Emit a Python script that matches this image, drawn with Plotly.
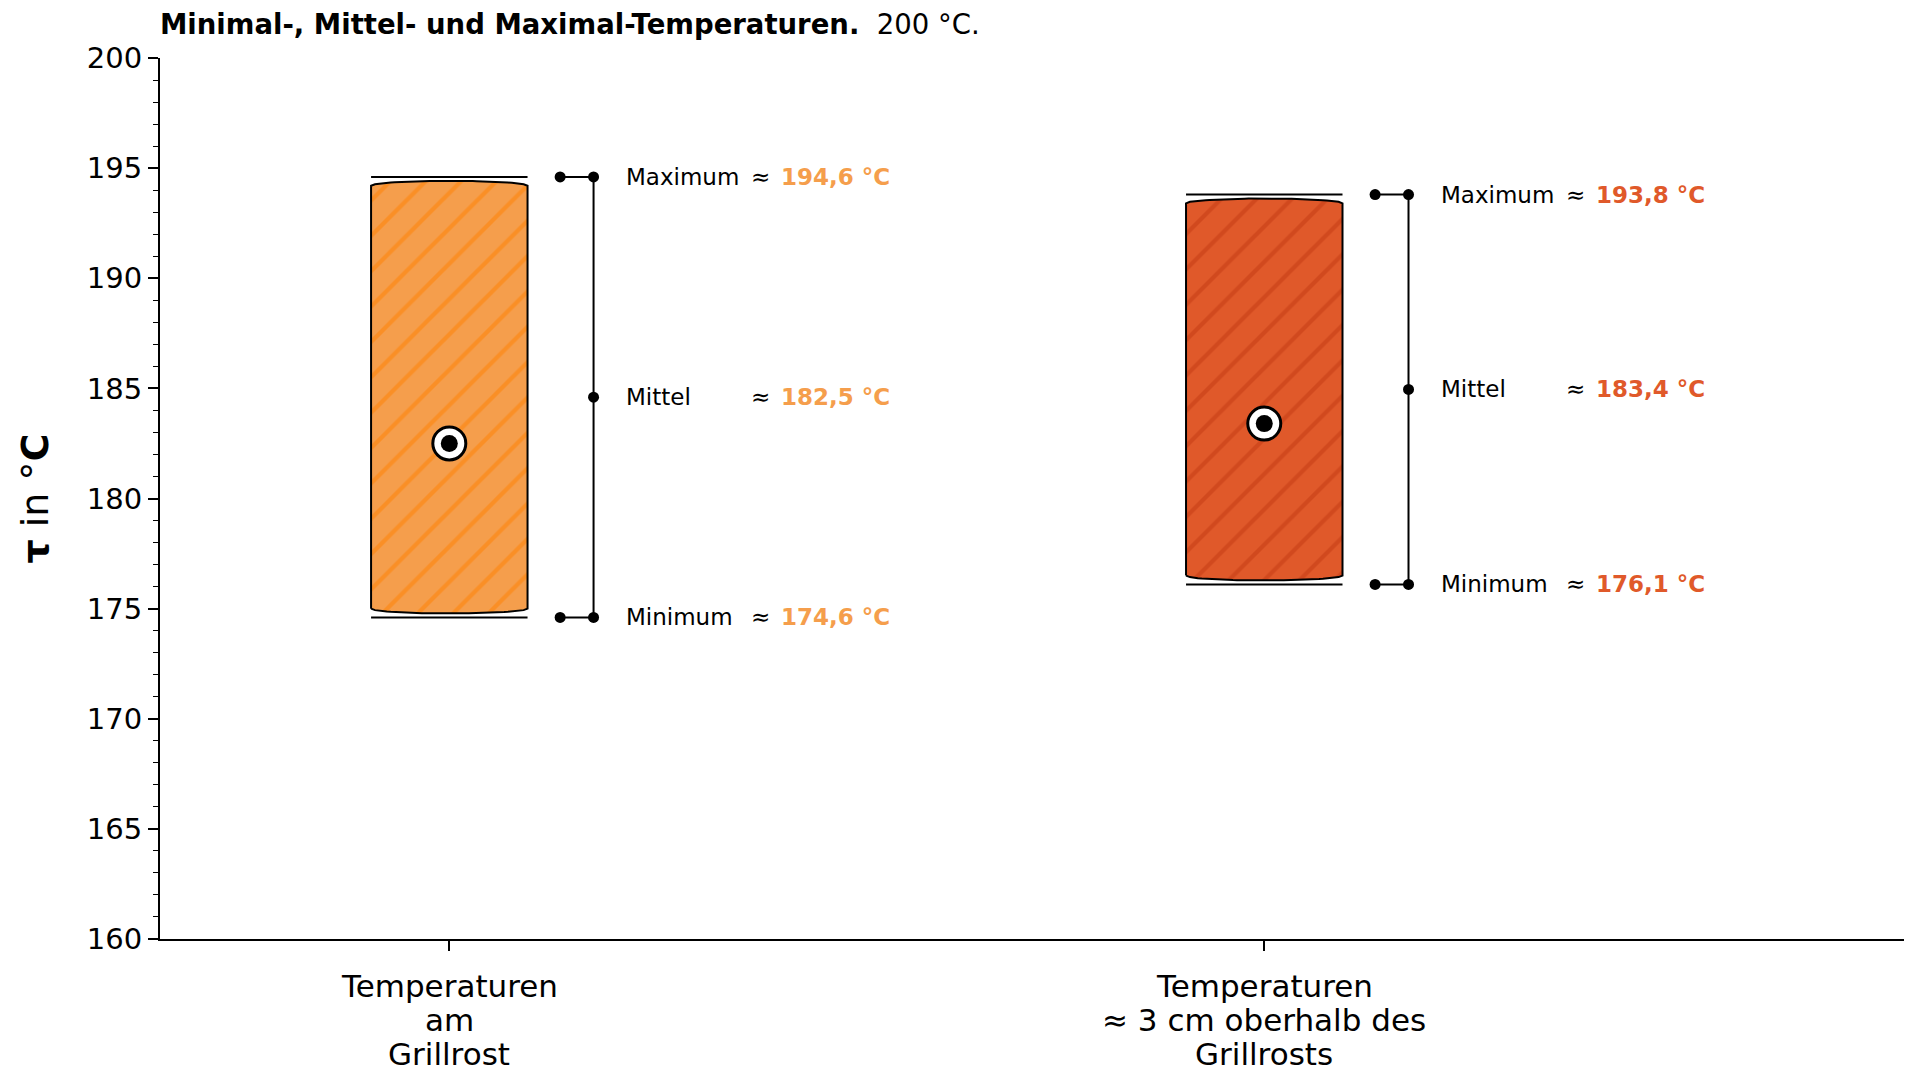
import numpy as np
import plotly.graph_objects as go

# ---------------- data ----------------
categories = ["Temperaturen<br>am<br>Grillrost",
              "Temperaturen<br>≈ 3 cm oberhalb des<br>Grillrosts"]
t_min = [174.6, 176.1]
t_mean = [182.5, 183.4]
t_max = [194.6, 193.8]
value_labels_min = ["174,6 °C", "176,1 °C"]
value_labels_mean = ["182,5 °C", "183,4 °C"]
value_labels_max = ["194,6 °C", "193,8 °C"]
row_names = ["Maximum", "Mittel", "Minimum"]
y_ticks = [160, 165, 170, 175, 180, 185, 190, 195, 200]

# ---------------- style ----------------
fill_colors = ["#F59E4C", "#E0592A"]
hatch_colors = ["#FF8000", "#C23A12"]
text_colors = ["#F59E4C", "#E0592A"]
FONT = "DejaVu Sans"
half_w = 0.096
cap_corner = 0.40
cap_depth = 0.22
br_left = 0.136
br_x = 0.177
lab_x = 0.214
approx_x = 0.368
val_x = 0.404
xlabel_shifts = [-46.7, -81.0, -115.3]

fig = go.Figure()

for i, cat in enumerate(categories):
    xc = i
    lo, hi = t_min[i], t_max[i]
    u = np.linspace(-1, 1, 41)
    arc = np.sqrt(1 - u ** 2)
    # cylinder outline
    xs = ([xc - half_w] + list(xc + half_w * u) + [xc + half_w] + list(xc - half_w * u))
    ys = ([lo + cap_corner] + list(hi - cap_corner + cap_depth * arc) +
          [hi - cap_corner] + list(lo + cap_corner - cap_depth * arc))
    xs.append(xs[0]); ys.append(ys[0])
    fig.add_trace(go.Scatter(
        x=xs, y=ys, mode="lines", fill="toself",
        fillcolor=fill_colors[i],
        fillpattern=dict(shape="/", bgcolor=fill_colors[i], fgcolor=hatch_colors[i],
                         size=25, solidity=0.17),
        line=dict(color="black", width=2), hoverinfo="skip", showlegend=False))
    # max/min lines
    for yv in (lo, hi):
        fig.add_trace(go.Scatter(x=[xc - half_w, xc + half_w], y=[yv, yv], mode="lines",
                                 line=dict(color="black", width=2),
                                 hoverinfo="skip", showlegend=False))
    # mean marker
    fig.add_trace(go.Scatter(x=[xc], y=[t_mean[i]], mode="markers",
                             marker=dict(size=33, color="white",
                                         line=dict(color="black", width=3)),
                             hoverinfo="skip", showlegend=False))
    fig.add_trace(go.Scatter(x=[xc], y=[t_mean[i]], mode="markers",
                             marker=dict(size=17, color="black"),
                             hoverinfo="skip", showlegend=False))
    # bracket
    mid = (lo + hi) / 2
    fig.add_trace(go.Scatter(x=[xc + br_x, xc + br_x], y=[lo, hi], mode="lines",
                             line=dict(color="black", width=2),
                             hoverinfo="skip", showlegend=False))
    for yv in (lo, hi):
        fig.add_trace(go.Scatter(x=[xc + br_left, xc + br_x], y=[yv, yv], mode="lines+markers",
                                 line=dict(color="black", width=2),
                                 marker=dict(size=11, color="black"),
                                 hoverinfo="skip", showlegend=False))
    fig.add_trace(go.Scatter(x=[xc + br_x], y=[mid], mode="markers",
                             marker=dict(size=11, color="black"),
                             hoverinfo="skip", showlegend=False))
    # labels
    rows = [(hi, row_names[0], value_labels_max[i]),
            (mid, row_names[1], value_labels_mean[i]),
            (lo, row_names[2], value_labels_min[i])]
    for yv, name, val in rows:
        fig.add_annotation(x=xc + lab_x, y=yv, text=name, showarrow=False,
                           xanchor="left", yanchor="middle",
                           font=dict(family=FONT, size=23, color="black"))
        fig.add_annotation(x=xc + approx_x, y=yv, text="≈", showarrow=False,
                           xanchor="left", yanchor="middle",
                           font=dict(family=FONT, size=23, color="black"))
        fig.add_annotation(x=xc + val_x, y=yv, text="<b>" + val + "</b>", showarrow=False,
                           xanchor="left", yanchor="middle",
                           font=dict(family=FONT, size=23, color=text_colors[i]))
    # category tick label lines
    for k, line_txt in enumerate(cat.split("<br>")):
        fig.add_annotation(x=xc, xref="x", y=0, yref="paper", text=line_txt,
                           showarrow=False, xanchor="center", yanchor="middle",
                           yshift=xlabel_shifts[k],
                           font=dict(family=FONT, size=31, color="black"))

# y-axis title as rotated annotation
fig.add_annotation(xref="paper", yref="paper", x=-0.0722, y=0.5,
                   text="<b>τ</b> in °<b>C</b>", textangle=-90, showarrow=False,
                   xanchor="center", yanchor="middle",
                   font=dict(family=FONT, size=38, color="black"))

fig.update_layout(
    width=1920, height=1080,
    margin=dict(l=152, r=24, t=49.5, b=149),
    paper_bgcolor="white", plot_bgcolor="white",
    font=dict(family=FONT, color="black"),
    title=dict(text="<b>Minimal-, Mittel- und Maximal-Temperaturen.</b>\u00a0\u00a0200 °C.",
               x=152 / 1920, xanchor="left", xref="container",
               y=1 - 16 / 1080, yanchor="middle", yref="container",
               font=dict(family=FONT, size=27.5, color="black")),
    xaxis=dict(range=[-0.355, 1.785], tickvals=[0, 1], ticktext=["", ""],
               showgrid=False, zeroline=False, showline=True, linecolor="black",
               linewidth=2, ticks="outside", ticklen=10, tickwidth=1.5,
               tickcolor="black", tickfont=dict(family=FONT, size=29, color="black")),
    yaxis=dict(range=[160, 200], tickvals=y_ticks, showgrid=False, zeroline=False,
               showline=True, linecolor="black", linewidth=2, ticks="outside",
               ticklen=10, tickwidth=1.5, tickcolor="black",
               minor=dict(dtick=1, ticks="outside", ticklen=5, tickwidth=1.2,
                          tickcolor="black", showgrid=False),
               tickfont=dict(family=FONT, size=29, color="black")),
)

fig.write_html("out.html")
